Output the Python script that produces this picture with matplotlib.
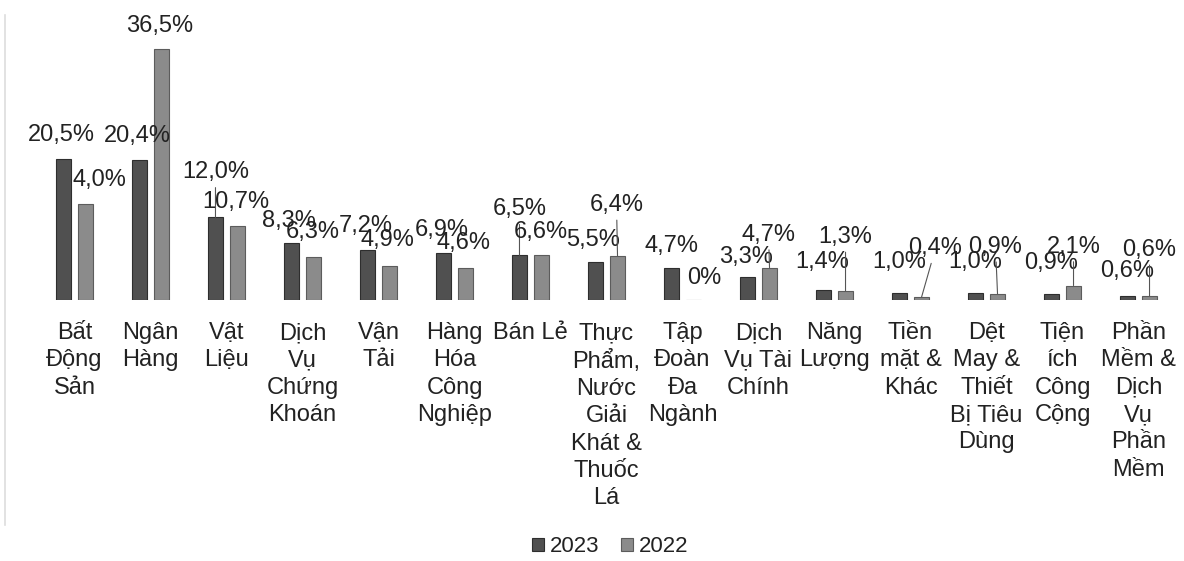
import matplotlib
matplotlib.use("Agg")
import matplotlib.pyplot as plt
import numpy as np

plt.rcParams['font.family'] = ['Liberation Sans', 'DejaVu Sans']

# categories (wrapped as in the picture)
categories = ["Bất\nĐộng\nSản", "Ngân\nHàng", "Vật\nLiệu", "Dịch\nVụ\nChứng\nKhoán",
              "Vận\nTải", "Hàng\nHóa\nCông\nNghiệp", "Bán Lẻ",
              "Thực\nPhẩm,\nNước\nGiải\nKhát &\nThuốc\nLá", "Tập\nĐoàn\nĐa\nNgành",
              "Dịch\nVụ Tài\nChính", "Năng\nLượng", "Tiền\nmặt &\nKhác",
              "Dệt\nMay &\nThiết\nBị Tiêu\nDùng", "Tiện\ních\nCông\nCộng",
              "Phần\nMềm &\nDịch\nVụ\nPhần\nMềm"]
v2023 = [20.5, 20.4, 12.0, 8.3, 7.2, 6.9, 6.5, 5.5, 4.7, 3.3, 1.4, 1.0, 1.0, 0.9, 0.6]
v2022 = [14.0, 36.5, 10.7, 6.3, 4.9, 4.6, 6.6, 6.4, 0.0, 4.7, 1.3, 0.4, 0.9, 2.1, 0.6]
lab2023 = ["20,5%", "20,4%", "12,0%", "8,3%", "7,2%", "6,9%", "6,5%", "5,5%", "4,7%",
           "3,3%", "1,4%", "1,0%", "1,0%", "0,9%", "0,6%"]
lab2022 = ["4,0%", "36,5%", "10,7%", "6,3%", "4,9%", "4,6%", "6,6%", "6,4%", "0%",
           "4,7%", "1,3%", "0,4%", "0,9%", "2,1%", "0,6%"]

# label offsets from bar top in pixels (dx, dy) and whether a leader line is drawn
off2023 = [(-2, 24), (-2, 24), (0, 45), (-3, 22), (-2, 24), (-2, 23), (0, 46), (-2, 22),
           (0, 22), (-1, 20), (-1, 28), (0, 31), (0, 31), (0, 31), (0, 25)]
lead2023 = [False, False, True, False, False, False, True, False,
            False, False, False, False, False, False, False]
off2022 = [(14, 24), (-2, 23), (-2, 24), (-1, 25), (-2, 26), (-2, 25), (-1, 23), (-1, 51),
           (11, 22), (-1, 33), (0, 54), (14, 49), (-2, 47), (0, 39), (0, 46)]
lead2022 = [False, False, False, False, False, False, False, True,
            False, True, True, True, True, True, True]

c2023 = "#505050"
c2022 = "#8b8b8b"
tcol = "#222222"

fig = plt.figure(figsize=(11.84, 5.61), dpi=100)
ax = fig.add_axes([36.5/1184, 261/561, 1140/1184, 290/561])

x = np.arange(len(categories))
w = 0.2
off = 0.145
b1 = ax.bar(x - off, v2023, w, color=c2023, edgecolor="#2e2e2e", linewidth=0.8)
b2 = ax.bar(x + off, v2022, w, color=c2022, edgecolor="#5c5c5c", linewidth=0.8)

def put_labels(xs, vals, labs, offs, leads):
    for xi, v, t, o, ld in zip(xs, vals, labs, offs, leads):
        ap = None
        if ld:
            ap = dict(arrowstyle="-", color="#555555", lw=0.8, shrinkA=1, shrinkB=0)
        ax.annotate(t, xy=(xi, v), xytext=o, textcoords="offset pixels",
                    ha="center", va="center", fontsize=17, color=tcol,
                    arrowprops=ap)

put_labels(x - off, v2023, lab2023, off2023, lead2023)
put_labels(x + off, v2022, lab2022, off2022, lead2022)

ax.set_xlim(-0.5, len(categories) - 0.5)
ax.set_ylim(0, 290/6.88)
ax.set_xticks(x)
ax.set_xticklabels(categories, fontsize=17, color=tcol, linespacing=1.31)
ax.tick_params(axis="x", length=0, pad=16)
ax.set_yticks([])
for s in ax.spines.values():
    s.set_visible(False)

# faint frame edge on the left, as in the scan
fig.add_artist(plt.Line2D([5/1184, 5/1184], [1 - 525/561, 1 - 15/561],
                          color="#dddddd", lw=1.2))

fig.legend([b1, b2], ["2023", "2022"], loc="center", ncol=2,
           bbox_to_anchor=(610/1184, 1 - 547/561), frameon=False, fontsize=16,
           handlelength=0.55, handleheight=0.55, handletextpad=0.25, columnspacing=1.0,
           labelcolor=tcol)

fig.savefig("out.png", dpi=100)
